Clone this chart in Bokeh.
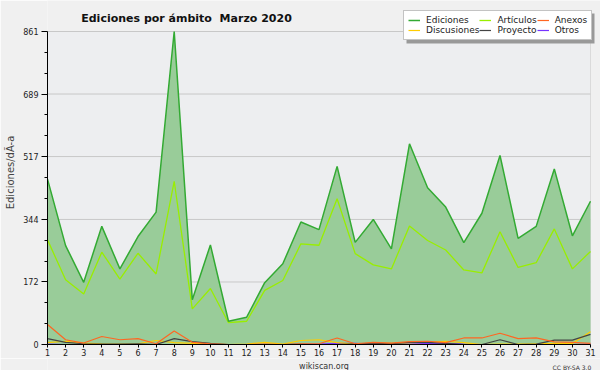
from bokeh.plotting import figure
from bokeh.models import (ColumnDataSource, FixedTicker, Legend, LegendItem, Label, BoxAnnotation)
from bokeh.layouts import column
from bokeh.embed import file_html
from bokeh.resources import INLINE

days = list(range(1, 32))

ediciones = [455, 272, 171, 325, 208, 297, 364, 861, 123, 274, 64, 75, 170, 222, 337,
             316, 490, 281, 344, 263, 552, 431, 378, 280, 361, 520, 292, 325, 483, 299, 394]
articulos = [288, 178, 139, 254, 180, 251, 194, 449, 98, 154, 60, 64, 149, 176, 277,
             273, 401, 250, 219, 208, 326, 286, 260, 205, 197, 310, 212, 225, 318, 208, 256]
anexos = [55, 13, 4, 22, 13, 16, 2, 37, 6, 2, 0, 0, 1, 0, 2,
          2, 18, 2, 6, 4, 8, 9, 5, 18, 18, 31, 16, 18, 7, 6, 3]
discusiones = [5, 9, 4, 2, 1, 2, 11, 5, 3, 1, 0, 1, 6, 1, 11,
               13, 5, 1, 4, 3, 5, 6, 9, 5, 0, 1, 1, 2, 3, 3, 35]
proyecto = [16, 6, 2, 1, 1, 2, 0, 16, 8, 3, 0, 0, 0, 0, 1,
            0, 0, 2, 3, 2, 6, 6, 3, 0, 0, 13, 0, 1, 12, 12, 28]
otros = [1, 0, 0, 0, 0, 0, 0, 0, 0, 0, 0, 0, 0, 0, 0,
         1, 3, 3, 1, 1, 1, 3, 3, 1, 0, 0, 0, 0, 0, 0, 1]

series_labels = ["Ediciones", "Artículos", "Anexos", "Discusiones", "Proyecto", "Otros"]

y_max = 861
y_ticks = [0, 172, 344, 517, 689, 861]
y_minor = [57.4, 114.8, 229.6, 287.0, 401.8, 459.2, 574.0, 631.4, 746.2, 803.6]

title_text = "Ediciones por ámbito\u00a0 Marzo 2020"
y_label = "Ediciones/dÃ-a"
site_text = "wikiscan.org"
license_text = "CC BY-SA 3.0"

src = ColumnDataSource(dict(day=days, ediciones=ediciones, articulos=articulos,
                            anexos=anexos, discusiones=discusiones,
                            proyecto=proyecto, otros=otros))
grid_src = ColumnDataSource(dict(y=y_ticks, x0=[days[0]] * len(y_ticks),
                                 x1=[days[-1]] * len(y_ticks)))

FONT = "DejaVu Sans"
BG = "#f0f0f0"

# pixel layout of the frame: day 1 at 47px, day 31 at 590px; value 0 at 344px, 861 at 31px
PX_LEFT, PX_RIGHT, PX_CANVAS_R = 47, 590, 600
PX_BOTTOM, PX_TOP = 344, 31
x_per_px = (days[-1] - days[0]) / (PX_RIGHT - PX_LEFT)
y_per_px = y_max / (PX_BOTTOM - PX_TOP)
x_end = days[-1] + (PX_CANVAS_R - PX_RIGHT) * x_per_px
y_end = PX_BOTTOM * y_per_px


def px_x(px):
    return days[0] + (px - PX_LEFT) * x_per_px


def px_y(py):
    return (PX_BOTTOM - py) * y_per_px


p = figure(frame_width=PX_CANVAS_R - PX_LEFT, frame_height=PX_BOTTOM, output_backend="svg",
           toolbar_location=None, x_range=(days[0], x_end), y_range=(0, y_end),
           min_border_left=PX_LEFT, min_border_right=0, min_border_top=0, min_border_bottom=0)
p.border_fill_color = BG
p.background_fill_color = BG
p.outline_line_color = None

# plot-area background
p.add_layout(BoxAnnotation(left=days[0], right=days[-1], bottom=0, top=y_max,
                           fill_color="#edeef0", fill_alpha=1.0,
                           line_color="#aaaaaa", line_width=1, level="underlay"))
p.segment(x0="x0", x1="x1", y0="y", y1="y", source=grid_src, line_color="#c8c8c8", line_width=1)

p.varea(x="day", y1=0, y2="ediciones", source=src, fill_color="#99cc99", fill_alpha=1.0)
r_otros = p.line("day", "otros", source=src, line_color="#7733ff", line_width=1.2)
r_disc = p.line("day", "discusiones", source=src, line_color="#ffcc00", line_width=1.2)
r_proy = p.line("day", "proyecto", source=src, line_color="#444444", line_width=1.2)
r_anex = p.line("day", "anexos", source=src, line_color="#ff6622", line_width=1.2)
r_art = p.line("day", "articulos", source=src, line_color="#99ee00", line_width=1.3)
r_edi = p.line("day", "ediciones", source=src, line_color="#33aa33", line_width=1.5)

# axes
p.xaxis.ticker = FixedTicker(ticks=days)
p.xaxis.bounds = (days[0], days[-1])
p.xaxis.major_label_text_font = FONT
p.xaxis.major_label_text_font_size = "8px"
p.xaxis.major_label_text_color = "#222222"
p.xaxis.major_tick_out = 3
p.xaxis.major_tick_in = 0
p.xaxis.minor_tick_line_color = None
p.xaxis.major_label_standoff = 1
p.xaxis.axis_line_color = "black"

p.yaxis.ticker = FixedTicker(ticks=y_ticks, minor_ticks=y_minor)
p.yaxis.bounds = (0, y_max)
p.yaxis.major_label_text_font = FONT
p.yaxis.major_label_text_font_size = "8px"
p.yaxis.major_label_text_color = "#222222"
p.yaxis.major_tick_out = 6
p.yaxis.major_tick_in = 0
p.yaxis.minor_tick_out = 3
p.yaxis.minor_tick_in = 0
p.yaxis.major_label_standoff = 3
p.yaxis.axis_label = y_label
p.yaxis.axis_label_text_font = FONT
p.yaxis.axis_label_text_font_size = "10px"
p.yaxis.axis_label_text_font_style = "normal"
p.yaxis.axis_label_standoff = 4
p.yaxis.axis_line_color = "black"

p.grid.grid_line_color = None

# title (screen units, relative to the frame's bottom-left)
p.add_layout(Label(x=139, y=326, x_units="screen", y_units="screen", text=title_text,
                   text_font=FONT, text_font_style="bold", text_font_size="11px",
                   text_align="center", text_baseline="alphabetic", text_color="#111111"))

# legend shadow (offset 3px right/down of the legend box)
p.add_layout(BoxAnnotation(left=px_x(406), right=px_x(594), top=px_y(13), bottom=px_y(43),
                           fill_color="#999999", fill_alpha=1.0, line_color=None))

legend = Legend(items=[
    LegendItem(label=series_labels[0], renderers=[r_edi]),
    LegendItem(label=series_labels[1], renderers=[r_art]),
    LegendItem(label=series_labels[2], renderers=[r_anex]),
    LegendItem(label=series_labels[3], renderers=[r_disc]),
    LegendItem(label=series_labels[4], renderers=[r_proy]),
    LegendItem(label=series_labels[5], renderers=[r_otros]),
], location=(403 - PX_LEFT, PX_BOTTOM - 40), orientation="horizontal", ncols=3)
legend.label_text_font = FONT
legend.label_text_font_size = "9px"
legend.label_text_color = "#222222"
legend.label_height = 10
legend.glyph_height = 10
legend.glyph_width = 12
legend.label_standoff = 6
legend.spacing = 0
legend.padding = 4
legend.margin = 0
legend.border_line_color = "#888888"
legend.background_fill_color = "white"
legend.background_fill_alpha = 1.0
p.add_layout(legend, "center")

# footer strip
foot = figure(width=600, height=14, output_backend="svg", toolbar_location=None,
              x_range=(0, 600), y_range=(0, 14), x_axis_type=None, y_axis_type=None,
              min_border=0)
foot.border_fill_color = BG
foot.background_fill_color = BG
foot.outline_line_color = None
foot.grid.grid_line_color = None
foot.add_layout(Label(x=300, y=6, text=site_text, text_font=FONT, text_font_size="8px",
                      text_align="center", text_baseline="alphabetic", text_color="#333333"))
foot.add_layout(Label(x=590, y=5, text=license_text, text_font=FONT, text_font_size="6px",
                      text_align="right", text_baseline="alphabetic", text_color="#333333"))

layout = column(p, foot, spacing=0)
open("out.html", "w").write(file_html(layout, INLINE))
